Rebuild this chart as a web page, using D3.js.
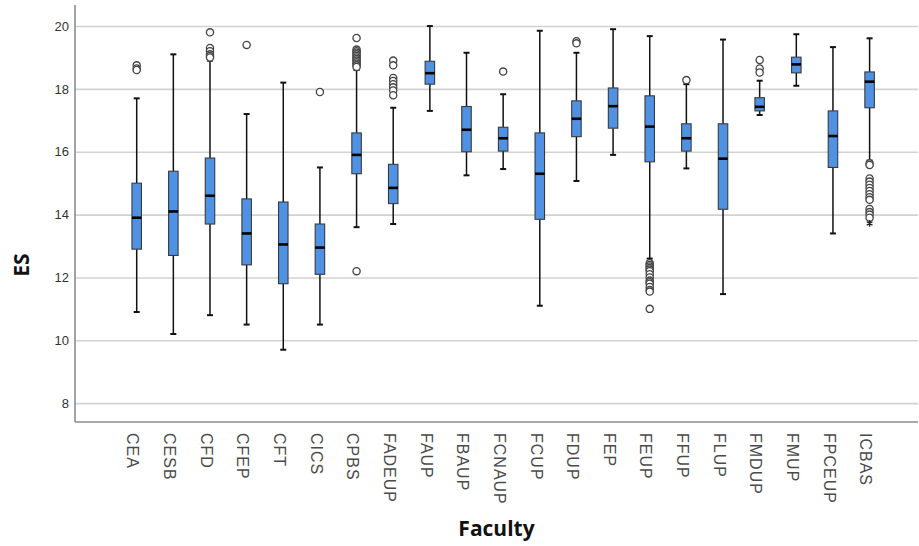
<!DOCTYPE html>
<html>
<head>
<meta charset="utf-8">
<script src="https://cdn.jsdelivr.net/npm/d3@7"></script>
<style>
  body { margin: 0; background: #fff; }
  svg { display: block; }
</style>
</head>
<body>
<div id="chart"></div>
<script>
(function () {
    /* ----------------------- Data ----------------------- */
    const categories = ["CEA", "CESB", "CFD", "CFEP", "CFT", "CICS", "CPBS", "FADEUP", "FAUP", "FBAUP",
        "FCNAUP", "FCUP", "FDUP", "FEP", "FEUP", "FFUP", "FLUP", "FMDUP", "FMUP", "FPCEUP", "ICBAS"];
    const whiskerLow  = [10.9, 10.2, 10.8, 10.5, 9.7, 10.5, 13.6, 13.7, 17.3, 15.25, 15.45, 11.1, 15.07, 15.9, 12.6, 15.47, 11.47, 17.17, 18.1, 13.4, 15.72];
    const q1          = [12.9, 12.7, 13.7, 12.4, 11.8, 12.1, 15.3, 14.35, 18.15, 16.0, 16.02, 13.85, 16.48, 16.75, 15.68, 16.02, 14.17, 17.3, 18.51, 15.5, 17.4];
    const median      = [13.9, 14.1, 14.6, 13.4, 13.05, 12.95, 15.9, 14.85, 18.5, 16.7, 16.43, 15.3, 17.05, 17.45, 16.8, 16.43, 15.78, 17.43, 18.78, 16.5, 18.23];
    const q3          = [15.0, 15.38, 15.8, 14.5, 14.4, 13.7, 16.6, 15.6, 18.88, 17.44, 16.78, 16.6, 17.62, 18.03, 17.78, 16.89, 16.89, 17.72, 19.01, 17.3, 18.54];
    const whiskerHigh = [17.7, 19.1, 18.9, 17.2, 18.2, 15.5, 18.6, 17.4, 20.0, 19.15, 17.83, 19.85, 19.15, 19.9, 19.68, 18.15, 19.57, 18.26, 19.74, 19.33, 19.61];
    const outliers = [
        [18.75, 18.65, 18.6],
        [],
        [19.8, 19.3, 19.2, 19.1, 19.05, 19.0],
        [19.4],
        [],
        [17.9],
        [19.62, 19.25, 19.2, 19.15, 19.1, 19.05, 19.0, 18.95, 18.9, 18.85, 18.8, 18.75, 18.7, 12.2],
        [18.9, 18.75, 18.35, 18.25, 18.15, 18.05, 17.95, 17.8],
        [],
        [],
        [18.55],
        [],
        [19.52, 19.45],
        [],
        [12.45, 12.4, 12.35, 12.3, 12.25, 12.2, 12.1, 12.0, 11.9, 11.85, 11.8, 11.7, 11.6, 11.55, 11.0],
        [18.28],
        [],
        [18.92, 18.65, 18.52],
        [],
        [],
        [15.63, 15.58, 15.15, 15.05, 14.95, 14.85, 14.75, 14.65, 14.55, 14.47, 14.18, 14.08, 14.0, 13.9]
    ];
    const extremes = [[], [], [], [], [], [], [], [], [], [], [], [], [], [], [], [], [], [], [], [], [13.72]];
    const yTicks = [8, 10, 12, 14, 16, 18, 20];

    /* ----------------------- Dimensions ----------------------- */
    const W = 919, H = 546;
    const plot = { left: 75, right: 918, top: 5, bottom: 422 };

    const svg = d3.select("#chart").append("svg")
        .attr("width", W).attr("height", H);

    /* ----------------------- Scales ----------------------- */
    const x = d3.scalePoint().domain(categories).range([136.7, 869.6]);
    const y = d3.scaleLinear().domain([7.4, 20.67]).range([plot.bottom, plot.top]);
    const boxW = 9.5;

    /* ----------------------- Grid + y axis ----------------------- */
    const yAxis = svg.append("g")
        .attr("transform", `translate(${plot.left},0)`)
        .call(d3.axisLeft(y).tickValues(yTicks)
            .tickSizeInner(-(plot.right - plot.left)).tickSizeOuter(0).tickPadding(6));
    yAxis.select(".domain").remove();
    yAxis.selectAll(".tick line").attr("stroke", "#d2d2d2").attr("stroke-width", 1.6);
    yAxis.selectAll(".tick text")
        .attr("font-family", "Liberation Sans, Arial, sans-serif")
        .attr("font-size", 13).attr("fill", "#333");

    // axis frame lines
    svg.append("line")
        .attr("x1", plot.left).attr("x2", plot.left)
        .attr("y1", plot.top).attr("y2", plot.bottom)
        .attr("stroke", "#8c8c8c").attr("stroke-width", 1.6);
    svg.append("line")
        .attr("x1", plot.left).attr("x2", plot.right)
        .attr("y1", plot.bottom).attr("y2", plot.bottom)
        .attr("stroke", "#8c8c8c").attr("stroke-width", 1.6);

    /* ----------------------- x axis labels ----------------------- */
    const xAxis = svg.append("g")
        .attr("transform", `translate(0,${plot.bottom})`)
        .call(d3.axisBottom(x).tickSize(0));
    xAxis.select(".domain").remove();
    xAxis.selectAll(".tick text")
        .attr("x", 0).attr("y", 0).attr("dy", "0.36em")
        .attr("transform", "translate(-4,11) rotate(90)")
        .attr("text-anchor", "start")
        .attr("font-family", "Liberation Sans, Arial, sans-serif")
        .attr("font-size", 16).attr("letter-spacing", 1)
        .attr("fill", "#4a4a4a");

    /* ----------------------- Boxes ----------------------- */
    const rows = categories.map((c, i) => ({
        cat: c, lo: whiskerLow[i], q1: q1[i], med: median[i], q3: q3[i], hi: whiskerHigh[i],
        out: outliers[i], ext: extremes[i]
    }));

    const g = svg.selectAll(".box").data(rows).enter().append("g")
        .attr("class", "box")
        .attr("transform", d => `translate(${x(d.cat)},0)`);

    // whiskers
    g.append("line")
        .attr("x1", 0).attr("x2", 0)
        .attr("y1", d => y(d.q3)).attr("y2", d => y(d.hi))
        .attr("stroke", "#111").attr("stroke-width", 1.5);
    g.append("line")
        .attr("x1", 0).attr("x2", 0)
        .attr("y1", d => y(d.q1)).attr("y2", d => y(d.lo))
        .attr("stroke", "#111").attr("stroke-width", 1.5);
    // caps
    g.selectAll(".cap").data(d => [d.lo, d.hi]).enter().append("line")
        .attr("class", "cap")
        .attr("x1", -3).attr("x2", 3)
        .attr("y1", v => y(v)).attr("y2", v => y(v))
        .attr("stroke", "#111").attr("stroke-width", 2);

    g.append("rect")
        .attr("x", -boxW / 2).attr("width", boxW)
        .attr("y", d => y(d.q3))
        .attr("height", d => y(d.q1) - y(d.q3))
        .attr("fill", "#4f92e4")
        .attr("stroke", "#3a3a3a").attr("stroke-width", 1.1);

    g.append("line")
        .attr("x1", -boxW / 2).attr("x2", boxW / 2)
        .attr("y1", d => y(d.med)).attr("y2", d => y(d.med))
        .attr("stroke", "#000").attr("stroke-width", 2.6);

    // outliers
    g.selectAll(".out").data(d => d.out).enter().append("circle")
        .attr("class", "out")
        .attr("cx", 0).attr("cy", v => y(v)).attr("r", 3.6)
        .attr("fill", "#fff").attr("stroke", "#444").attr("stroke-width", 1.3);

    // extremes (asterisk)
    g.selectAll(".ext").data(d => d.ext).enter().append("path")
        .attr("class", "ext")
        .attr("transform", v => `translate(0,${y(v)})`)
        .attr("d", d3.symbol(d3.symbolAsterisk, 30)())
        .attr("fill", "none").attr("stroke", "#222").attr("stroke-width", 1.4);

    /* ----------------------- Titles ----------------------- */
    svg.append("text")
        .attr("x", (plot.left + plot.right) / 2).attr("y", 536)
        .attr("text-anchor", "middle")
        .attr("font-family", "Open Sans, sans-serif").attr("font-weight", "bold")
        .attr("font-size", 21).attr("fill", "#111")
        .text("Faculty");

    svg.append("text")
        .attr("transform", "translate(29,265) rotate(-90)")
        .attr("text-anchor", "middle")
        .attr("font-family", "Open Sans, sans-serif").attr("font-weight", "bold")
        .attr("font-size", 21).attr("fill", "#111")
        .text("ES");
})();
</script>
</body>
</html>
